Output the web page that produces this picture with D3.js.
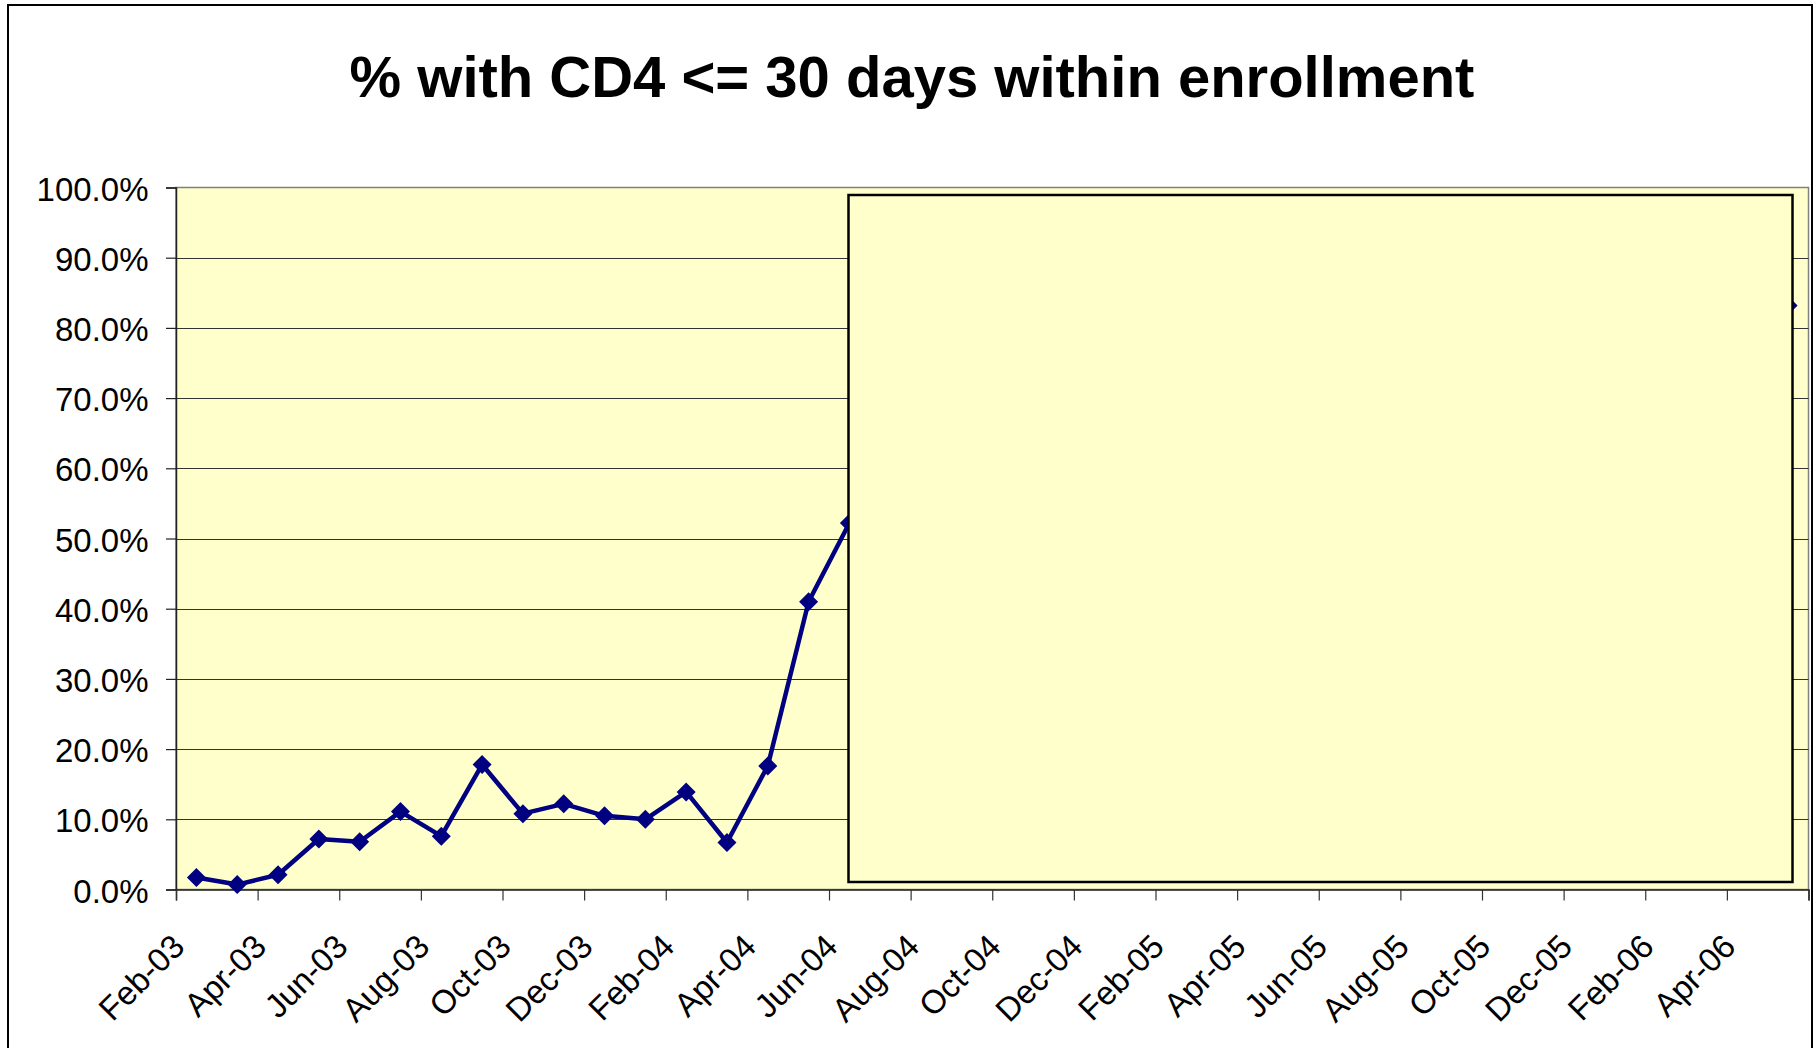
<!DOCTYPE html>
<html>
<head>
<meta charset="utf-8">
<script src="https://cdn.jsdelivr.net/npm/d3@7"></script>
<style>
  html, body { margin: 0; padding: 0; background: #fff; }
  svg { display: block; }
  text { font-family: "Liberation Sans", Arial, sans-serif; }
</style>
</head>
<body>
<script>
// ---- data ----
const titleText = "% with CD4 <= 30 days within enrollment";
const months = ["Feb-03","Mar-03","Apr-03","May-03","Jun-03","Jul-03","Aug-03","Sep-03","Oct-03","Nov-03","Dec-03","Jan-04",
                "Feb-04","Mar-04","Apr-04","May-04","Jun-04","Jul-04","Aug-04","Sep-04","Oct-04","Nov-04","Dec-04","Jan-05",
                "Feb-05","Mar-05","Apr-05","May-05","Jun-05","Jul-05","Aug-05","Sep-05","Oct-05","Nov-05","Dec-05","Jan-06",
                "Feb-06","Mar-06","Apr-06","May-06"];
// percent values; months hidden behind the overlay box are unknown (null)
const values = [1.7, 0.7, 2.1, 7.2, 6.8, 11.1, 7.6, 17.8, 10.8, 12.2, 10.5, 10.0,
                13.9, 6.7, 17.6, 41.0, 52.2, null, null, null, null, null, null, null,
                null, null, null, null, null, null, null, null, null, null, null, null,
                null, null, null, 83.2];
const tickLabels = ["Feb-03","Apr-03","Jun-03","Aug-03","Oct-03","Dec-03","Feb-04","Apr-04","Jun-04","Aug-04",
                    "Oct-04","Dec-04","Feb-05","Apr-05","Jun-05","Aug-05","Oct-05","Dec-05","Feb-06","Apr-06"];
const yTicks = [0,10,20,30,40,50,60,70,80,90,100];

// ---- layout ----
const W = 1814, H = 1048;
const plot = {left: 176, right: 1808.5, top: 187.5, bottom: 889.5};
const svg = d3.select("body").append("svg").attr("width", W).attr("height", H);

// outer chart border
svg.append("rect").attr("x", 8).attr("y", 5).attr("width", 1804).attr("height", 1100)
  .attr("fill", "#fff").attr("stroke", "#000").attr("stroke-width", 2);

const x = d3.scaleLinear().domain([0, months.length]).range([plot.left, plot.right]);
const y = d3.scaleLinear().domain([0, 100]).range([plot.bottom, plot.top]);

// plot background
svg.append("rect").attr("x", plot.left).attr("y", plot.top)
  .attr("width", plot.right - plot.left).attr("height", plot.bottom - plot.top)
  .attr("fill", "#FFFFCC").attr("stroke", "#808080").attr("stroke-width", 1.5);

// gridlines
svg.append("g").selectAll("line").data(yTicks.filter(d => d > 0 && d < 100)).join("line")
  .attr("x1", plot.left).attr("x2", plot.right)
  .attr("y1", d => Math.round(y(d)) + 0.5).attr("y2", d => Math.round(y(d)) + 0.5)
  .attr("stroke", "#333").attr("stroke-width", 1.2);

// y axis
const yAxis = svg.append("g").attr("transform", `translate(${plot.left},0)`)
  .call(d3.axisLeft(y).tickValues(yTicks).tickSize(10).tickPadding(17.5)
        .tickFormat(d => d.toFixed(1) + "%"));
yAxis.select(".domain").attr("stroke", "#222").attr("stroke-width", 1.5);
yAxis.selectAll(".tick line").attr("stroke", "#222").attr("stroke-width", 1.2);
yAxis.selectAll(".tick text").attr("font-size", 33).attr("fill", "#000").attr("dy", "0.38em")
  .attr("font-family", "'Liberation Sans', Arial, sans-serif");

// x axis
const xTickVals = d3.range(0, months.length + 1, 2);
const xAxis = svg.append("g").attr("transform", `translate(0,${plot.bottom})`)
  .call(d3.axisBottom(x).tickValues(xTickVals).tickSize(11).tickPadding(6)
        .tickFormat((d, i) => tickLabels[i] || ""));
xAxis.select(".domain").attr("stroke", "#222").attr("stroke-width", 1.5);
xAxis.selectAll(".tick line").attr("stroke", "#333").attr("stroke-width", 1.2);
xAxis.selectAll(".tick text")
  .attr("font-size", 33).attr("fill", "#000")
  .attr("font-family", "'Liberation Sans', Arial, sans-serif")
  .attr("text-anchor", "end")
  .attr("dy", null).attr("y", 0)
  .attr("transform", "translate(10,59) rotate(-45)");

// series
const pts = values.map((v, i) => ({i, v})).filter(d => d.v !== null);
const line = d3.line().defined(d => d.v !== null)
  .x(d => x(d.i + 0.5)).y(d => y(d.v));
svg.append("path").datum(values.map((v, i) => ({i, v})))
  .attr("d", line).attr("fill", "none").attr("stroke", "#000080")
  .attr("stroke-width", 4.5).attr("stroke-linejoin", "round");
const m = 9.5;
svg.append("g").selectAll("path").data(pts).join("path")
  .attr("transform", d => `translate(${x(d.i + 0.5)},${y(d.v)})`)
  .attr("d", `M0,${-m}L${m},0L0,${m}L${-m},0Z`).attr("fill", "#000080");

// overlay box covering later data
svg.append("rect").attr("x", 848.5).attr("y", 195).attr("width", 1792.5 - 848.5).attr("height", 882 - 195)
  .attr("fill", "#FFFFCC").attr("stroke", "#000").attr("stroke-width", 2.5);

// title
svg.append("text").attr("x", 912).attr("y", 97).attr("text-anchor", "middle")
  .attr("font-size", 58).attr("font-weight", "bold").attr("fill", "#000").text(titleText);
</script>
</body>
</html>
